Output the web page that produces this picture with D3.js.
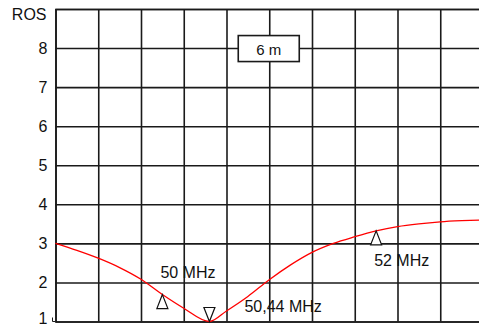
<!DOCTYPE html>
<html>
<head>
<meta charset="utf-8">
<script src="https://cdn.jsdelivr.net/npm/d3@7"></script>
<style>
  body { margin: 0; background: #fff; }
  text { font-family: "Liberation Sans", Arial, sans-serif; fill: #111; }
</style>
</head>
<body>
<div id="visualization"></div>
<script>
// frequency (MHz) and SWR
const freq = [49.0, 49.2, 49.4, 49.6, 49.8, 50.0, 50.2, 50.44, 50.6, 50.8, 51.0, 51.2, 51.4, 51.6, 51.8, 52.0, 52.2, 52.4, 52.6, 52.8, 53.0];
const ros  = [3.0, 2.82, 2.62, 2.38, 2.08, 1.69, 1.34, 1.0, 1.27, 1.64, 2.07, 2.45, 2.77, 3.0, 3.17, 3.32, 3.43, 3.5, 3.55, 3.58, 3.6];
const yTicks = [1, 2, 3, 4, 5, 6, 7, 8];
const markers = [
    {f: 50.0, r: 1.69, dir: "up", label: "50 MHz", dx: -2, dy: -17},
    {f: 50.44, r: 1.0, dir: "down", label: "50,44 MHz", dx: 35, dy: -10},
    {f: 52.0, r: 3.32, dir: "up", label: "52 MHz", dx: -2, dy: 35}
];
const bandLabel = "6 m";
const axisTitle = "ROS";

const W = 479, H = 326;
const margin = {top: 9, right: -4, bottom: 4.5, left: 55.5};

const svg = d3.select("#visualization")
    .append("svg")
    .attr("width", W)
    .attr("height", H);

const x = d3.scaleLinear().domain([49, 53]).range([margin.left, W - margin.right]);
const y = d3.scaleLinear().domain([1, 9]).range([H - margin.bottom, margin.top]);

const gridColor = "#1a1a1a";

// vertical grid
svg.append("g")
    .attr("transform", `translate(0, ${y(1)})`)
    .call(d3.axisBottom(x).tickValues(d3.range(0, 11).map(i => 49 + i * 0.4))
        .tickSize(-(y(1) - y(9))).tickFormat(""))
    .call(g => g.select(".domain").remove())
    .call(g => g.selectAll("line").attr("stroke", gridColor).attr("stroke-width", 1.6));

// horizontal grid + labels
svg.append("g")
    .attr("transform", `translate(${x(49)}, 0)`)
    .call(d3.axisLeft(y).tickValues(d3.range(1, 10))
        .tickSize(-(x(53) - x(49))).tickPadding(8)
        .tickFormat(d => yTicks.includes(d) ? d : ""))
    .call(g => g.select(".domain").attr("stroke", gridColor).attr("stroke-width", 1.6))
    .call(g => g.selectAll("line").attr("stroke", gridColor).attr("stroke-width", 1.6))
    .call(g => g.selectAll("text").style("font-size", "16px").attr("fill", "#111")
        .attr("dy", d => d === 1 ? "0.12em" : "0.32em"));

// little tick at the origin
svg.append("path")
    .attr("d", `M${x(49) - 3},${y(1) - 4}V${y(1)}H${x(49)}`)
    .attr("fill", "none")
    .attr("stroke", gridColor)
    .attr("stroke-width", 1);

svg.append("text")
    .attr("x", x(49) - 9)
    .attr("y", 20)
    .attr("text-anchor", "end")
    .style("font-size", "16px")
    .text(axisTitle);

// band box
const bx = x(50.71), by = y(8.32);
svg.append("rect")
    .attr("x", bx).attr("y", by)
    .attr("width", 61).attr("height", 26)
    .attr("fill", "#fff")
    .attr("stroke", gridColor)
    .attr("stroke-width", 1.6);
svg.append("text")
    .attr("x", bx + 30.5).attr("y", by + 19)
    .attr("text-anchor", "middle")
    .style("font-size", "15px")
    .text(bandLabel);

// curve
const line = d3.line()
    .x((d, i) => x(freq[i]))
    .y(d => y(d))
    .curve(d3.curveMonotoneX);

svg.append("path")
    .datum(ros)
    .attr("d", line)
    .attr("fill", "none")
    .attr("stroke", "#ff0000")
    .attr("stroke-width", 1.3);

// markers
markers.forEach(m => {
    const px = x(m.f), py = y(m.r);
    const h = m.dir === "up" ? 14 : -14;
    svg.append("path")
        .attr("d", `M${px},${py}L${px - 5.5},${py + h}L${px + 5.5},${py + h}Z`)
        .attr("fill", "#fff")
        .attr("stroke", "#111")
        .attr("stroke-width", 1.2);
    svg.append("text")
        .attr("x", px + m.dx)
        .attr("y", py + m.dy)
        .style("font-size", "16px")
        .text(m.label);
});
</script>
</body>
</html>
